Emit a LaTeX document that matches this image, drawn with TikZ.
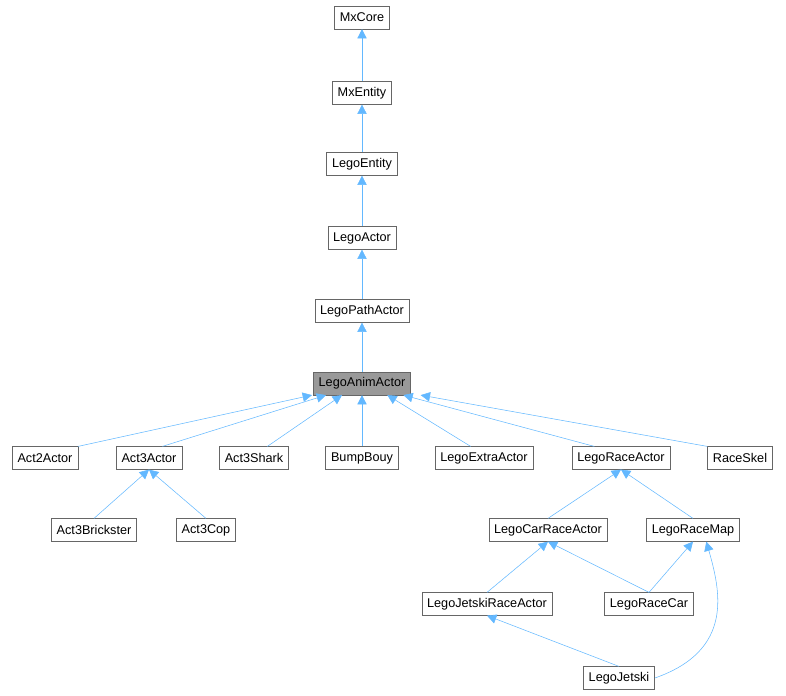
\documentclass[tikz,border=0pt]{standalone}
\usepackage{fontspec}
\setmainfont{Liberation Sans}
\usetikzlibrary{arrows.meta, positioning}
\definecolor{edgeblue}{HTML}{63B8FF}
\definecolor{boxgray}{HTML}{666666}
\begin{document}
\begin{tikzpicture}[
    x=0.75pt, y=-0.75pt,
    cls/.style={draw=boxgray, fill=white, font=\fontsize{9.5}{11}\selectfont,
                minimum height=17pt, inner xsep=4pt, inner ysep=0pt},
    inh/.style={draw=edgeblue, {Triangle[length=7pt,width=7pt,fill=edgeblue]}-},
]
\useasboundingbox (0,0) rectangle (786,696);
% Nodes
\node[cls] (core) at (362,17.5) {MxCore};
\node[cls] (mxent) at (362,93) {MxEntity};
\node[cls] (legoent) at (362,164) {LegoEntity};
\node[cls] (actor) at (362,238) {LegoActor};
\node[cls] (path) at (362,311) {LegoPathActor};
\node[cls, fill=gray!80] (anim) at (362,383.5) {LegoAnimActor};
\node[cls] (act2) at (45,458) {Act2Actor};
\node[cls] (act3) at (149,458) {Act3Actor};
\node[cls] (shark) at (254,458) {Act3Shark};
\node[cls] (bouy) at (362,458) {BumpBouy};
\node[cls] (extra) at (484,458) {LegoExtraActor};
\node[cls] (race) at (621,458) {LegoRaceActor};
\node[cls] (skel) at (740,458) {RaceSkel};
\node[cls] (brick) at (94,530) {Act3Brickster};
\node[cls] (cop) at (206,530) {Act3Cop};
\node[cls] (carrace) at (548,530) {LegoCarRaceActor};
\node[cls] (racemap) at (693,530) {LegoRaceMap};
\node[cls] (jetrace) at (487,604) {LegoJetskiRaceActor};
\node[cls] (racecar) at (649,604) {LegoRaceCar};
\node[cls] (jetski) at (619,678) {LegoJetski};
% Arrows
\draw[inh] (core) -- (mxent);
\draw[inh] (mxent) -- (legoent);
\draw[inh] (legoent) -- (actor);
\draw[inh] (actor) -- (path);
\draw[inh] (path) -- (anim);
\draw[inh] ([xshift=-37.5pt]anim.south) -- (act2.north east);
\draw[inh] ([xshift=-27pt]anim.south) -- ([xshift=10pt]act3.north);
\draw[inh] ([xshift=-15pt]anim.south) -- ([xshift=10pt]shark.north);
\draw[inh] (anim.south) -- (bouy.north);
\draw[inh] ([xshift=19pt]anim.south) -- ([xshift=-10pt]extra.north);
\draw[inh] ([xshift=31pt]anim.south) -- ([xshift=-20pt]race.north);
\draw[inh] ([xshift=44pt]anim.south) -- (skel.north west);
\draw[inh] (act3.south) -- (brick.north);
\draw[inh] (act3.south) -- (cop.north);
\draw[inh] (race.south) -- (carrace.north);
\draw[inh] (race.south) -- (racemap.north);
\draw[inh] (carrace.south) -- (jetrace.north);
\draw[inh] (carrace.south) -- (racecar.north);
\draw[inh] (racemap.south) -- (racecar.north);
\draw[inh] (jetrace.south) -- (jetski.north);
\draw[inh] ([xshift=10pt]racemap.south) .. controls (720,590) and (735,650) .. (jetski.east);
\end{tikzpicture}
\end{document}
